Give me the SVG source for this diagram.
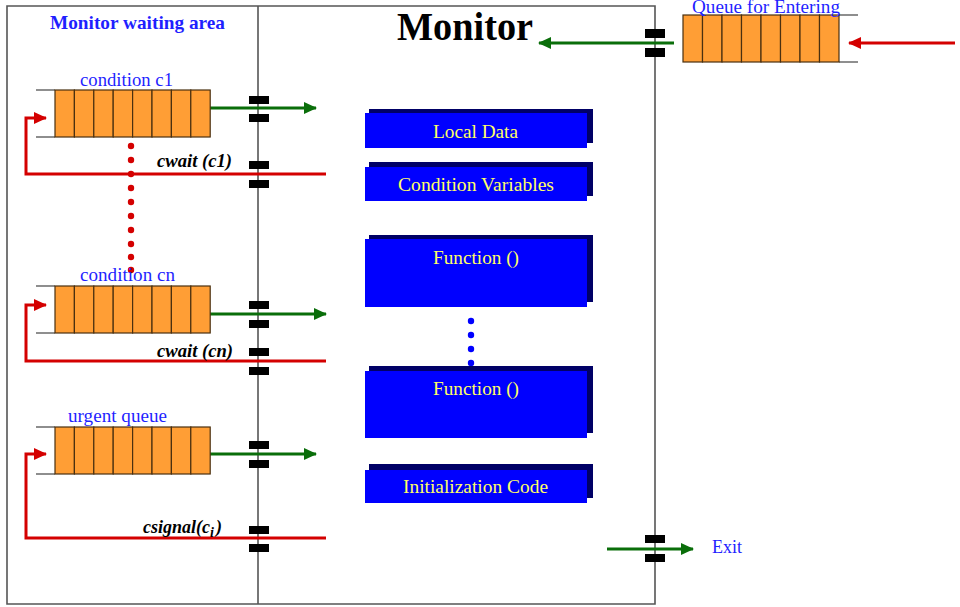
<svg xmlns="http://www.w3.org/2000/svg" width="960" height="607" viewBox="0 0 960 607">
<defs>
<style>
.frame{fill:none;stroke:#555;stroke-width:1.6}
.stub{stroke:#444;stroke-width:1.2}
.cell{fill:#FF9E35;stroke:#4a3010;stroke-width:1.2}
.gate{fill:#000}
.g{fill:none;stroke:#0a6e0a;stroke-width:3}
.r{fill:none;stroke:#d40000;stroke-width:3}
.lbl{font-family:"Liberation Serif",serif;font-size:18px;fill:#1f1fff}
.cw{font-family:"Liberation Serif",serif;font-size:18px;font-weight:bold;font-style:italic;fill:#000}
.bx{fill:#0000ff}
.sh{fill:#000066}
.bt{font-family:"Liberation Serif",serif;font-size:19px;fill:#ffff66}
.rd{fill:#d40000}
.bd{fill:#0000ff}
</style>
<marker id="ag" markerUnits="userSpaceOnUse" markerWidth="14" markerHeight="12" refX="12" refY="6" orient="auto"><path d="M0,0 L13,6 L0,12 Z" fill="#0a6e0a"/></marker>
<marker id="ar" markerUnits="userSpaceOnUse" markerWidth="14" markerHeight="12" refX="12" refY="6" orient="auto"><path d="M0,0 L13,6 L0,12 Z" fill="#d40000"/></marker>
<g id="q8">
<line class="stub" x1="-19" y1="0" x2="0" y2="0"/>
<line class="stub" x1="-19" y1="47" x2="0" y2="47"/>
<rect class="cell" x="0" y="0" width="19.4" height="47"/>
<rect class="cell" x="19.4" y="0" width="19.4" height="47"/>
<rect class="cell" x="38.8" y="0" width="19.4" height="47"/>
<rect class="cell" x="58.2" y="0" width="19.4" height="47"/>
<rect class="cell" x="77.6" y="0" width="19.4" height="47"/>
<rect class="cell" x="97" y="0" width="19.4" height="47"/>
<rect class="cell" x="116.4" y="0" width="19.4" height="47"/>
<rect class="cell" x="135.8" y="0" width="19.4" height="47"/>
</g>
</defs>
<rect width="960" height="607" fill="#fff"/>
<g id="frame">
<path class="frame" d="M7,6 H655 V604 H7 Z"/>
<line class="frame" x1="258" y1="6" x2="258" y2="604"/>
</g>
<text id="waiting-area" x="50" y="29" font-family="Liberation Serif, serif" font-size="19" font-weight="bold" fill="#1f1fff" textLength="175" lengthAdjust="spacingAndGlyphs">Monitor waiting area</text>
<text id="monitor-title" x="397" y="40" font-family="Liberation Serif, serif" font-size="39" font-weight="bold" fill="#000" textLength="136" lengthAdjust="spacingAndGlyphs">Monitor</text>

<g id="connectors">
<line class="g" x1="210" y1="108" x2="316" y2="108" marker-end="url(#ag)"/>
<line class="g" x1="210" y1="314" x2="326" y2="314" marker-end="url(#ag)"/>
<line class="g" x1="210" y1="454" x2="316" y2="454" marker-end="url(#ag)"/>
<line class="g" x1="674" y1="43" x2="539" y2="43" marker-end="url(#ag)"/>
<line class="g" x1="607" y1="549" x2="693" y2="549" marker-end="url(#ag)"/>
<path class="r" d="M326,174 H26 V118 H46" marker-end="url(#ar)"/>
<path class="r" d="M326,361 H26 V305 H46" marker-end="url(#ar)"/>
<path class="r" d="M326,538 H26 V454 H46" marker-end="url(#ar)"/>
<line class="r" x1="955" y1="43" x2="849" y2="43" marker-end="url(#ar)"/>
</g>

<g id="red-dots">
<circle class="rd" cx="131" cy="146" r="3.2"/>
<circle class="rd" cx="131" cy="160" r="3.2"/>
<circle class="rd" cx="131" cy="174" r="3.2"/>
<circle class="rd" cx="131" cy="188" r="3.2"/>
<circle class="rd" cx="131" cy="202" r="3.2"/>
<circle class="rd" cx="131" cy="216" r="3.2"/>
<circle class="rd" cx="131" cy="230" r="3.2"/>
<circle class="rd" cx="131" cy="244" r="3.2"/>
<circle class="rd" cx="131" cy="257" r="3.2"/>
<circle class="rd" cx="131" cy="270" r="3.2"/>
</g>

<g id="queue-c1">
<use href="#q8" x="55" y="90"/>
<text class="lbl" x="80" y="86" textLength="93" lengthAdjust="spacingAndGlyphs">condition c1</text>
</g>
<g id="queue-cn">
<use href="#q8" x="55" y="286"/>
<text class="lbl" x="80" y="281" textLength="95" lengthAdjust="spacingAndGlyphs">condition cn</text>
</g>
<g id="queue-urgent">
<use href="#q8" x="55" y="427"/>
<text class="lbl" x="68" y="422" textLength="99" lengthAdjust="spacingAndGlyphs">urgent queue</text>
</g>
<g id="queue-entering">
<line class="stub" x1="839" y1="15" x2="858" y2="15"/>
<line class="stub" x1="839" y1="62" x2="858" y2="62"/>
<rect class="cell" x="683" y="15" width="19.5" height="47"/>
<rect class="cell" x="702.5" y="15" width="19.5" height="47"/>
<rect class="cell" x="722" y="15" width="19.5" height="47"/>
<rect class="cell" x="741.5" y="15" width="19.5" height="47"/>
<rect class="cell" x="761" y="15" width="19.5" height="47"/>
<rect class="cell" x="780.5" y="15" width="19.5" height="47"/>
<rect class="cell" x="800" y="15" width="19.5" height="47"/>
<rect class="cell" x="819.5" y="15" width="19.5" height="47"/>
<text class="lbl" x="692" y="13" font-size="17" textLength="148" lengthAdjust="spacingAndGlyphs">Queue for Entering</text>
</g>

<g id="gates">
<rect class="gate" x="249" y="96" width="20" height="8"/>
<rect class="gate" x="249" y="114" width="20" height="8"/>
<rect class="gate" x="249" y="161" width="20" height="8"/>
<rect class="gate" x="249" y="180" width="20" height="8"/>
<rect class="gate" x="249" y="301" width="20" height="8"/>
<rect class="gate" x="249" y="320" width="20" height="8"/>
<rect class="gate" x="249" y="348" width="20" height="8"/>
<rect class="gate" x="249" y="367" width="20" height="8"/>
<rect class="gate" x="249" y="441" width="20" height="8"/>
<rect class="gate" x="249" y="460" width="20" height="8"/>
<rect class="gate" x="249" y="526" width="20" height="8"/>
<rect class="gate" x="249" y="544" width="20" height="8"/>
<rect class="gate" x="645" y="29" width="20" height="9"/>
<rect class="gate" x="645" y="48" width="20" height="9"/>
<rect class="gate" x="645" y="535" width="20" height="8"/>
<rect class="gate" x="645" y="554" width="20" height="8"/>
</g>

<g id="labels">
<text class="cw" x="157" y="167" textLength="75" lengthAdjust="spacingAndGlyphs">cwait (c1)</text>
<text class="cw" x="157" y="357" textLength="76" lengthAdjust="spacingAndGlyphs">cwait (cn)</text>
<text class="cw" x="143" y="533" font-size="19">csignal(c<tspan font-size="14" dy="4">i</tspan><tspan dx="2" dy="-4">)</tspan></text>
<text id="exit" class="lbl" x="712" y="553" font-size="19">Exit</text>
</g>

<g id="local-data">
<rect class="sh" x="369" y="109" width="224" height="34"/>
<rect class="bx" x="365" y="113" width="222" height="35"/>
<text class="bt" x="433" y="138" textLength="85" lengthAdjust="spacingAndGlyphs">Local Data</text>
</g>
<g id="condition-variables">
<rect class="sh" x="369" y="162" width="224" height="34"/>
<rect class="bx" x="365" y="167" width="222" height="34"/>
<text class="bt" x="398" y="191" textLength="156" lengthAdjust="spacingAndGlyphs">Condition Variables</text>
</g>
<g id="function-1">
<rect class="sh" x="369" y="235" width="224" height="67"/>
<rect class="bx" x="365" y="239" width="222" height="68"/>
<text class="bt" x="433" y="264" textLength="86" lengthAdjust="spacingAndGlyphs">Function ()</text>
</g>
<g id="blue-dots">
<circle class="bd" cx="471" cy="321" r="3.2"/>
<circle class="bd" cx="471" cy="335" r="3.2"/>
<circle class="bd" cx="471" cy="349" r="3.2"/>
<circle class="bd" cx="471" cy="363" r="3.2"/>
</g>
<g id="function-2">
<rect class="sh" x="369" y="366" width="224" height="67"/>
<rect class="bx" x="365" y="371" width="222" height="67"/>
<text class="bt" x="433" y="395" textLength="86" lengthAdjust="spacingAndGlyphs">Function ()</text>
</g>
<g id="initialization-code">
<rect class="sh" x="369" y="464" width="224" height="34"/>
<rect class="bx" x="365" y="470" width="222" height="33"/>
<text class="bt" x="403" y="493" textLength="145" lengthAdjust="spacingAndGlyphs">Initialization Code</text>
</g>
</svg>
